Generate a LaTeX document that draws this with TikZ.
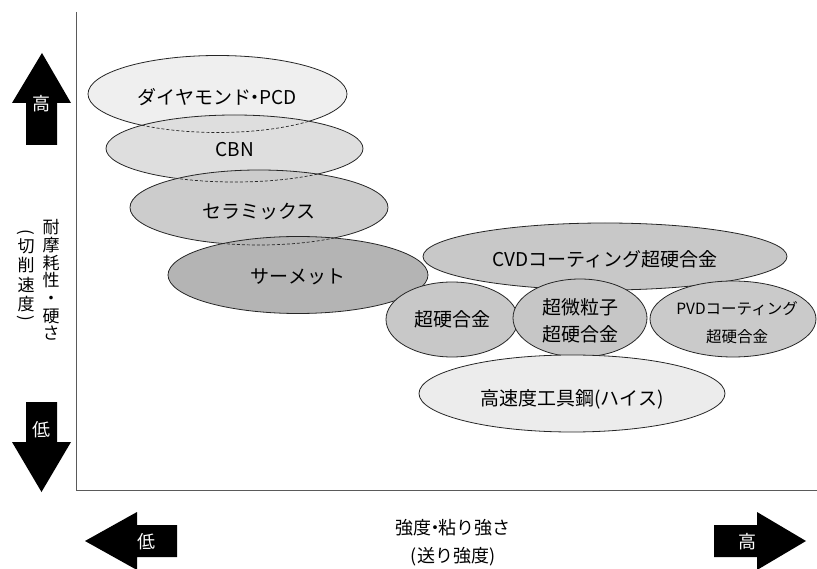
\documentclass[tikz,border=0pt]{standalone}
\usepackage{fontspec}
\setmainfont{Noto Sans CJK JP}
\newcommand\fsz[1]{\fontsize{#1}{#1}\selectfont}
\newcommand\ndot{\kern-5.5pt・\kern-5.5pt}
\definecolor{cdia}{HTML}{EFEFEF}
\definecolor{ccbn}{HTML}{DEDEDE}
\definecolor{ccer}{HTML}{CCCCCC}
\definecolor{ccmt}{HTML}{B4B4B4}
\definecolor{ccvd}{HTML}{C8C8C8}
\definecolor{cwc}{HTML}{C8C8C8}
\definecolor{cfine}{HTML}{C6C6C6}
\definecolor{cpvd}{HTML}{CACACA}
\definecolor{chss}{HTML}{ECECEC}
\definecolor{axisgray}{HTML}{5A5A5A}
\begin{document}
\begin{tikzpicture}[x=1pt,y=-1pt,
  ell/.style={draw=black!85, line width=0.8pt},
  hid/.style={draw=black!85, line width=0.7pt, dash pattern=on 3pt off 2pt},
  lbl/.style={font=\fsz{19}, inner sep=0, align=center},
  arr/.style={fill=black, draw=none},
  arrtxt/.style={text=white, font=\fsz{18}, inner sep=0},
  vlab/.style={font=\fsz{17}, inner sep=0},
  axis/.style={draw=axisgray, line width=1pt}]
\useasboundingbox (0,0) rectangle (817,569);

% axes
\coordinate (ytop) at (76,12);
\coordinate (origin) at (76,490);
\coordinate (xend) at (817,490);
\draw[axis] (ytop) -- (origin) -- (xend);

% stacked ellipses (upper left)
\path[ell, fill=cdia] (217.5,94) ellipse [x radius=129.5, y radius=38.5];
\path[ell, fill=ccbn] (234.5,148.5) ellipse [x radius=128.5, y radius=33.5];
\path[ell, fill=ccer] (259,207.5) ellipse [x radius=129, y radius=37.5];
\path[ell, fill=ccmt] (298,275) ellipse [x radius=130, y radius=38.5];

% hidden outlines (dashed)
\begin{scope}
  \clip (234.5,148.5) ellipse [x radius=128.5, y radius=33.5];
  \path[hid] (217.5,94) ellipse [x radius=129.5, y radius=38.5];
\end{scope}
\begin{scope}
  \clip (259,207.5) ellipse [x radius=129, y radius=37.5];
  \path[hid] (234.5,148.5) ellipse [x radius=128.5, y radius=33.5];
\end{scope}
\begin{scope}
  \clip (298,275) ellipse [x radius=130, y radius=38.5];
  \path[hid] (259,207.5) ellipse [x radius=129, y radius=37.5];
\end{scope}

% right group
\path[ell, fill=ccvd] (605,256.5) ellipse [x radius=182, y radius=33.5];
\path[ell, fill=cwc] (452,319.5) ellipse [x radius=66, y radius=37.5];
\path[ell, fill=cfine] (580,318) ellipse [x radius=67, y radius=39];
\path[ell, fill=cpvd] (733,319) ellipse [x radius=83, y radius=38];
\path[ell, fill=chss] (572,393.5) ellipse [x radius=153, y radius=38.5];

% labels
\node[lbl] (dia) at (217,97) {ダイヤモンド\ndot PCD};
\node[lbl] (cbn) at (235,150) {CBN};
\node[lbl] (cer) at (259,212) {セラミックス};
\node[lbl] (cmt) at (298,277) {サーメット};
\node[lbl] (cvd) at (605,259) {CVDコーティング超硬合金};
\node[lbl] (wc) at (452,319) {超硬合金};
\node[lbl, font={\fontsize{19}{27}\selectfont}] (fine) at (580,321) {超微粒子\\超硬合金};
\node[lbl, font={\fontsize{15.5}{28}\selectfont}] (pvd) at (737,323) {PVDコーティング\\超硬合金};
\node[lbl] (hss) at (572,399) {高速度工具鋼(ハイス)};

% vertical axis arrows
\path[arr] (42,53) -- (71,103) -- (57,103) -- (57,145) -- (26,145) -- (26,103) -- (12,103) -- cycle;
\node[arrtxt] (yhi) at (41.5,104) {高};
\path[arr] (26,402) -- (57,402) -- (57,442) -- (71,442) -- (41.5,492) -- (12,442) -- (26,442) -- cycle;
\node[arrtxt] (ylo) at (41.5,430) {低};

% horizontal axis arrows
\path[arr] (85,541) -- (137,512) -- (137,525) -- (177,525) -- (177,557) -- (137,557) -- (137,570) -- cycle;
\node[arrtxt] (xlo) at (146,542) {低};
\path[arr] (806,541) -- (757,512) -- (757,525) -- (714,525) -- (714,557) -- (757,557) -- (757,570) -- cycle;
\node[arrtxt] (xhi) at (747,542) {高};

% axis titles
\node[vlab, align=center, font={\fontsize{17}{17.7}\selectfont}] (ylab) at (51,280) {耐\\摩\\耗\\性\\・\\硬\\さ};
\node[vlab, rotate=-90] (kp1) at (26,232) {(};
\node[vlab] (k1) at (26,246) {切};
\node[vlab] (k2) at (26,265) {削};
\node[vlab] (k3) at (26,285) {速};
\node[vlab] (k4) at (26,304) {度};
\node[vlab, rotate=-90] (kp2) at (26,318) {)};

\node[inner sep=0, font=\fsz{18}] (xlab1) at (453,528) {強度\ndot 粘り強さ};
\node[inner sep=0, font=\fsz{18}] (xlab2) at (453,557) {(送り強度)};
\end{tikzpicture}
\end{document}
